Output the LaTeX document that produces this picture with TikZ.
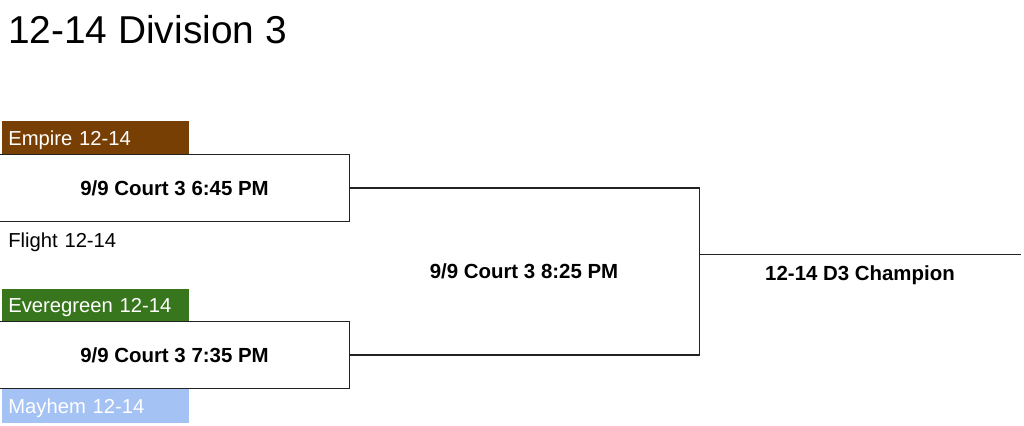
\documentclass[tikz,border=0pt]{standalone}
\usepackage{fontspec}
\setmainfont{Liberation Sans}
\definecolor{empire}{HTML}{783F04}
\definecolor{evergreen}{HTML}{38761D}
\definecolor{mayhem}{HTML}{A4C2F4}
\definecolor{bracket}{HTML}{222222}
\tikzset{
team/.style={minimum width=187pt,text width=175pt,align=left,inner xsep=6pt,inner ysep=0pt,text height=16pt,text depth=0pt,font=\fontsize{20.3}{22}\selectfont},
game/.style={inner sep=0pt,text height=16pt,text depth=0pt,font=\bfseries\fontsize{20.5}{22}\selectfont},
bline/.style={draw=bracket,line width=1.3pt}
}
\begin{document}
\begin{tikzpicture}[x=1bp,y=-1bp]
\useasboundingbox(0,0)rectangle(1024,425);
\node[anchor=base west,inner sep=0pt,font=\fontsize{39}{44}\selectfont](title)at(8,43){12-14 Division 3};
% first round
\node[team,fill=empire,text=white,minimum height=33bp](empire)at(95.5,137.5){Empire 12-14};
\node[game,minimum width=349bp,minimum height=67bp](gameA)at(174.5,188){9/9 Court 3 6:45 PM};
\node[team,minimum height=33bp](flight)at(95.5,239.5){Flight 12-14};
\node[team,fill=evergreen,text=white,minimum height=33bp](evergreen)at(95.5,305){Everegreen 12-14};
\node[game,minimum width=349bp,minimum height=67bp](gameB)at(174.5,355){9/9 Court 3 7:35 PM};
\node[team,fill=mayhem,text=white,minimum height=34bp](mayhem)at(95.5,405.5){Mayhem 12-14};
\draw[bline](gameA.north west)--(gameA.north east)--(gameA.south east)--(gameA.south west);
\draw[bline](gameB.north west)--(gameB.north east)--(gameB.south east)--(gameB.south west);
% final
\node[game,text height=14pt,minimum width=350bp,minimum height=167bp](final)at(524,271.5){9/9 Court 3 8:25 PM};
\draw[bline](gameA.east)-|(final.east)|-(gameB.east);
\node[game,text height=15pt,minimum width=322bp,minimum height=37bp](champ)at(860,273.5){12-14 D3 Champion};
\draw[bline](champ.north west)--(champ.north east);
\end{tikzpicture}
\end{document}
